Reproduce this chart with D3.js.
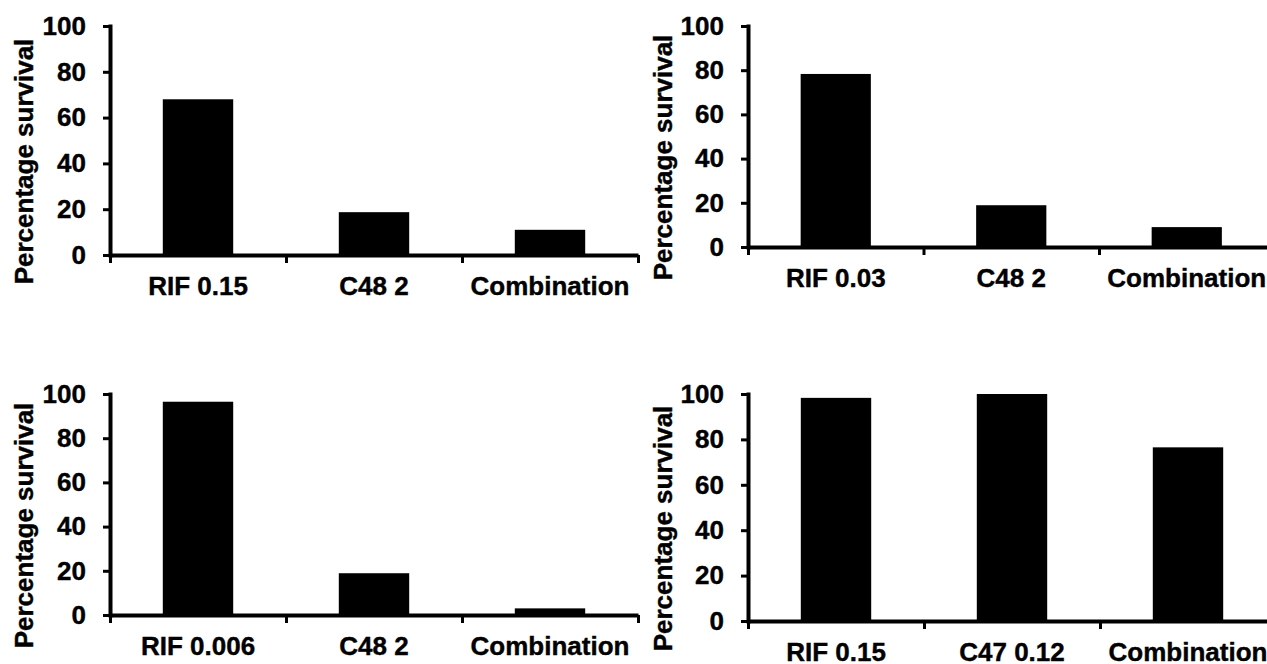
<!DOCTYPE html>
<html>
<head>
<meta charset="utf-8">
<script src="https://cdn.jsdelivr.net/npm/d3@7"></script>
<style>
  body { margin: 0; background: #fff; }
  text { font-family: "Liberation Sans", Arial, sans-serif; font-weight: bold; fill: #000; stroke: #000; stroke-width: 0.4px; }
</style>
</head>
<body>
<div class="chart"></div>
<script>
const yTicks = [0, 20, 40, 60, 80, 100];
const yTitle = "Percentage survival";

const categoriesA = ["RIF 0.15", "C48 2", "Combination"];
const valuesA = [68, 18.7, 11];

const categoriesB = ["RIF 0.03", "C48 2", "Combination"];
const valuesB = [78.3, 18.9, 9];

const categoriesC = ["RIF 0.006", "C48 2", "Combination"];
const valuesC = [96.5, 18.9, 3];

const categoriesD = ["RIF 0.15", "C47 0.12", "Combination"];
const valuesD = [98.3, 100, 76.5];

const width = 1267,
  height = 664;

// where each small chart sits on the page
const panels = [
  { cats: categoriesA, vals: valuesA, left: 110, top: 26, bottom: 255, step: 176, titleX: 33 },
  { cats: categoriesB, vals: valuesB, left: 748, top: 26, bottom: 247, step: 175.5, titleX: 672 },
  { cats: categoriesC, vals: valuesC, left: 110, top: 394, bottom: 615, step: 176, titleX: 33 },
  { cats: categoriesD, vals: valuesD, left: 748, top: 394, bottom: 621, step: 176, titleX: 672 },
];

const svg = d3
  .select(".chart")
  .append("svg")
  .attr("width", width)
  .attr("height", height);

panels.forEach((p) => {
  const g = svg.append("g").attr("transform", `translate(${p.left},0)`);
  const w = p.step * p.cats.length;

  const yScale = d3.scaleLinear().domain([0, 100]).range([p.bottom, p.top]);

  const xBand = d3
    .scaleBand()
    .domain(p.cats)
    .range([0, w])
    .paddingInner(0.6)
    .paddingOuter(0.3);

  const xEdges = d3.scaleLinear().domain([0, p.cats.length]).range([0, w]);

  // bars
  g.selectAll("rect")
    .data(p.vals)
    .enter()
    .append("rect")
    .attr("x", (d, i) => xBand(p.cats[i]))
    .attr("y", (d) => yScale(d))
    .attr("width", xBand.bandwidth())
    .attr("height", (d) => yScale(0) - yScale(d))
    .style("fill", "#000");

  // y axis
  const yAxis = g
    .append("g")
    .call(
      d3.axisLeft(yScale).tickValues(yTicks).tickSize(7).tickSizeOuter(0).tickPadding(17)
    );
  yAxis.select(".domain").attr("stroke-width", 4).attr("stroke-linecap", "square");
  yAxis.selectAll(".tick line").attr("stroke-width", 3);
  yAxis.selectAll(".tick text").style("font-size", "26px").attr("font-family", null);

  // x axis line with ticks on the category edges
  const xAxis = g
    .append("g")
    .attr("transform", `translate(0,${p.bottom})`)
    .call(
      d3.axisBottom(xEdges).tickValues(d3.range(p.cats.length + 1)).tickSize(8).tickSizeOuter(0).tickFormat("")
    );
  xAxis.select(".domain").attr("stroke-width", 4);
  xAxis.selectAll(".tick line").attr("stroke-width", 3);

  // category labels
  const xLabels = g
    .append("g")
    .attr("transform", `translate(0,${p.bottom})`)
    .call(d3.axisBottom(xBand).tickSize(0).tickPadding(22));
  xLabels.select(".domain").remove();
  xLabels.selectAll(".tick text").style("font-size", "26px").attr("font-family", null);

  // y title
  svg
    .append("text")
    .attr("transform", `translate(${p.titleX},${(p.top + p.bottom) / 2 + 21}) rotate(-90)`)
    .attr("text-anchor", "middle")
    .style("font-size", "26px")
    .text(yTitle);
});
</script>
</body>
</html>
